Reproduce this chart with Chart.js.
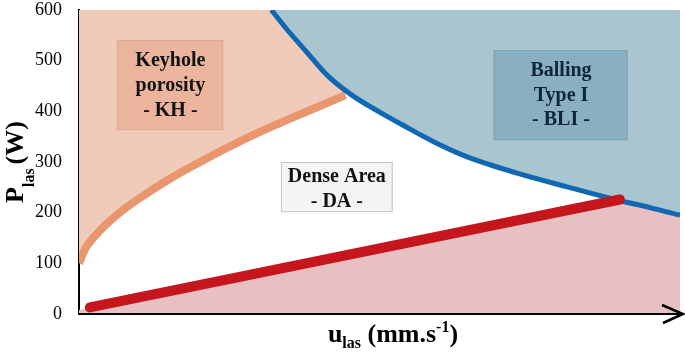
<!DOCTYPE html>
<html>
<head>
<meta charset="utf-8">
<script src="https://cdn.jsdelivr.net/npm/chart.js@4.4.0/dist/chart.umd.min.js"></script>
<style>
  body { margin: 0; background: #fff; }
  #wrap { width: 685px; height: 358px; }
</style>
</head>
<body>
<div id="wrap"><canvas id="chart" width="685" height="358"></canvas></div>
<script>
// process window data (x = scan speed, arbitrary units 0-100)
const keyholeX = [0, 1, 2, 3.5, 5, 7.5, 10, 15, 20, 25, 30, 35, 40, 44.3];
const keyholeY = [100, 128, 145, 165, 182, 207, 228, 266, 299, 330, 359, 385, 410, 432];

const ballingX = [32, 34.5, 37.6, 41.4, 45.4, 50.1, 54, 59, 64.6, 72.9, 81.2, 89.5, 95, 100];
const ballingY = [600, 563, 521, 470, 432, 398, 372, 340, 310, 278, 251, 225, 210, 195];

const lackX = [1.8, 90];
const lackY = [13, 226];

const lowFillX = [0, 90, 95, 100];
const lowFillY = [8, 226, 210, 195];

const yTicks = [0, 100, 200, 300, 400, 500, 600];

const pts = (xs, ys) => xs.map((x, i) => ({ x: x, y: ys[i] }));

// region labels (in data units)
const regionLabels = [
  { x1: 6.3, x2: 24.0, y1: 541, y2: 363, cx: 15.2, lines: [['Keyhole', 500], ['porosity', 451], ['- KH -', 401]],
    fill: '#ebb59d', stroke: '#d9ab97', color: '#111' },
  { x1: 33.6, x2: 52.2, y1: 300, y2: 201, cx: 42.9, lines: [['Dense Area', 270], ['- DA -', 221]],
    fill: '#f3f4f4', stroke: '#c3c7c7', color: '#111' },
  { x1: 69.0, x2: 91.3, y1: 521, y2: 343, cx: 80.2, lines: [['Balling', 480], ['Type I', 431], ['- BLI -', 383]],
    fill: '#8aafc0', stroke: '#7ea3b4', color: '#0f2638' }
];

const SERIF = "'Liberation Serif', 'Times New Roman', serif";

function drawRuns(ctx, runs) {
  let total = 0;
  runs.forEach(r => { ctx.font = r.font; r.w = ctx.measureText(r.t).width; total += r.w; });
  let x = -total / 2;
  runs.forEach(r => {
    ctx.font = r.font;
    ctx.fillText(r.t, x, r.dy || 0);
    x += r.w;
  });
}

const decor = {
  id: 'decor',
  afterDatasetsDraw(chart) {
    const ctx = chart.ctx;
    const xs = chart.scales.x, ys = chart.scales.y;
    ctx.save();
    regionLabels.forEach(b => {
      const l = xs.getPixelForValue(b.x1), r = xs.getPixelForValue(b.x2);
      const t = ys.getPixelForValue(b.y1), bt = ys.getPixelForValue(b.y2);
      ctx.fillStyle = b.fill;
      ctx.fillRect(l, t, r - l, bt - t);
      ctx.strokeStyle = b.stroke;
      ctx.lineWidth = 1;
      ctx.strokeRect(l + 0.5, t + 0.5, r - l - 1, bt - t - 1);
      ctx.fillStyle = b.color;
      ctx.font = 'bold 20px ' + SERIF;
      ctx.textAlign = 'center';
      ctx.textBaseline = 'middle';
      b.lines.forEach(([txt, y]) => ctx.fillText(txt, xs.getPixelForValue(b.cx), ys.getPixelForValue(y)));
    });
    ctx.restore();
  },
  afterDraw(chart) {
    const ctx = chart.ctx;
    const a = chart.chartArea;
    ctx.save();
    // x axis with arrow
    ctx.strokeStyle = '#000';
    ctx.lineWidth = 2;
    ctx.beginPath();
    ctx.moveTo(a.left - 1, a.bottom);
    ctx.lineTo(a.right + 3, a.bottom);
    ctx.stroke();
    ctx.lineWidth = 2.5;
    ctx.beginPath();
    ctx.moveTo(a.right - 18, a.bottom - 9);
    ctx.lineTo(a.right + 3, a.bottom);
    ctx.lineTo(a.right - 17, a.bottom + 9);
    ctx.stroke();

    ctx.fillStyle = '#000';
    ctx.textAlign = 'left';
    ctx.textBaseline = 'alphabetic';
    // y title
    ctx.save();
    ctx.translate(23, 162);
    ctx.rotate(-Math.PI / 2);
    drawRuns(ctx, [
      { t: 'P', font: 'bold 26px ' + SERIF },
      { t: 'las ', font: 'bold 16px ' + SERIF, dy: 11 },
      { t: '(W)', font: 'bold 26px ' + SERIF }
    ]);
    ctx.restore();
    // x title
    ctx.save();
    ctx.translate(393, 342);
    drawRuns(ctx, [
      { t: 'u', font: 'bold 26px ' + SERIF },
      { t: 'las', font: 'bold 16px ' + SERIF, dy: 6 },
      { t: ' (mm.s', font: 'bold 26px ' + SERIF },
      { t: '-1', font: 'bold 16px ' + SERIF, dy: -10 },
      { t: ')', font: 'bold 26px ' + SERIF }
    ]);
    ctx.restore();
    ctx.restore();
  }
};

new Chart(document.getElementById('chart'), {
  type: 'line',
  data: {
    datasets: [
      {
        label: 'Dense area limit (low)',
        data: pts(lackX, lackY),
        borderColor: '#c4161c',
        borderWidth: 10,
        borderCapStyle: 'round',
        pointRadius: 0,
        tension: 0,
        fill: false,
        order: 1
      },
      {
        label: 'low region',
        data: pts(lowFillX, lowFillY),
        borderWidth: 0,
        borderColor: 'rgba(0,0,0,0)',
        backgroundColor: '#e7c0c1',
        pointRadius: 0,
        tension: 0,
        fill: 'start',
        order: 3
      },
      {
        label: 'Balling',
        data: pts(ballingX, ballingY),
        borderColor: '#1068b2',
        borderWidth: 5,
        backgroundColor: '#a9c5d0',
        pointRadius: 0,
        cubicInterpolationMode: 'monotone',
        fill: 'end',
        order: 2
      },
      {
        label: 'Keyhole',
        data: pts(keyholeX, keyholeY),
        borderColor: '#e9956e',
        borderWidth: 8,
        backgroundColor: '#f1cbb9',
        pointRadius: 0,
        cubicInterpolationMode: 'monotone',
        fill: 'end',
        order: 4
      }
    ]
  },
  options: {
    responsive: false,
    animation: false,
    layout: { padding: { top: 10, right: 5, left: 0, bottom: 0 } },
    plugins: { legend: { display: false }, tooltip: { enabled: false } },
    scales: {
      x: {
        type: 'linear',
        min: 0,
        max: 100,
        grid: { display: false },
        border: { display: false },
        ticks: { display: false },
        afterFit: s => { s.height = 44; s.paddingLeft = 0; s.paddingRight = 0; }
      },
      y: {
        min: 0,
        max: 600,
        grid: { display: false, drawTicks: false },
        border: { display: true, color: '#000', width: 2 },
        afterBuildTicks: s => { s.ticks = yTicks.map(v => ({ value: v })); },
        ticks: {
          padding: 17,
          color: '#000',
          font: { family: SERIF, size: 18, lineHeight: 1 }
        },
        afterFit: s => { s.width = 79; s.paddingTop = 0; s.paddingBottom = 0; }
      }
    }
  },
  plugins: [decor]
});
</script>
</body>
</html>
